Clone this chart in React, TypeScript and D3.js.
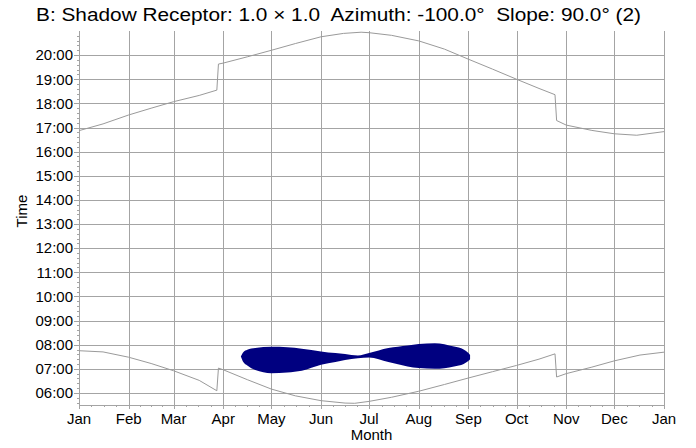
import React, { useEffect, useRef } from 'react';
import * as d3 from 'd3';

// day of year (0 = Jan 1) and clock time in hours
const sunsetDays = [0, 15, 31, 45, 59, 75, 86, 87, 90, 105, 120, 135, 151, 165, 176, 181, 195, 212, 228, 243, 258, 273, 287, 297, 298, 304, 320, 334, 348, 365];
const sunsetHours = [16.87, 17.15, 17.52, 17.8, 18.07, 18.33, 18.55, 19.63, 19.67, 19.93, 20.2, 20.48, 20.76, 20.9, 20.95, 20.93, 20.82, 20.59, 20.25, 19.83, 19.42, 19.0, 18.62, 18.36, 17.29, 17.1, 16.88, 16.74, 16.68, 16.83];

const sunriseDays = [0, 15, 31, 45, 59, 75, 86, 87, 90, 105, 120, 135, 151, 166, 172, 181, 195, 212, 228, 243, 258, 273, 287, 297, 298, 304, 320, 334, 350, 365];
const sunriseHours = [7.75, 7.7, 7.48, 7.22, 6.92, 6.52, 6.09, 7.03, 6.96, 6.55, 6.16, 5.88, 5.68, 5.58, 5.57, 5.65, 5.82, 6.07, 6.35, 6.62, 6.88, 7.14, 7.4, 7.62, 6.66, 6.8, 7.07, 7.33, 7.57, 7.69];

// shadow period per day: start (lower edge) and end (upper edge)
const shadowDays = [101, 102.5, 105, 110, 120, 130, 139, 151, 160, 166, 174, 181, 193, 205, 212, 222, 234, 240, 243, 244];
const shadowStart = [7.51, 7.28, 7.14, 6.95, 6.82, 6.85, 6.92, 7.17, 7.28, 7.36, 7.44, 7.47, 7.28, 7.1, 7.03, 7.0, 7.1, 7.2, 7.33, 7.4];
const shadowEnd = [7.51, 7.69, 7.79, 7.86, 7.91, 7.89, 7.83, 7.72, 7.65, 7.61, 7.55, 7.65, 7.86, 7.97, 8.03, 8.06, 7.92, 7.8, 7.65, 7.57];

const monthStarts = [0, 31, 59, 90, 120, 151, 181, 212, 243, 273, 304, 334, 365];
const monthLabels = ['Jan', 'Feb', 'Mar', 'Apr', 'May', 'Jun', 'Jul', 'Aug', 'Sep', 'Oct', 'Nov', 'Dec', 'Jan'];
const hourTicks = [6, 7, 8, 9, 10, 11, 12, 13, 14, 15, 16, 17, 18, 19, 20];

const title = 'B: Shadow Receptor: 1.0 \u00d7 1.0  Azimuth: -100.0\u00b0  Slope: 90.0\u00b0 (2)';

const App = () => {
  const chartRef = useRef<HTMLDivElement>(null);

  useEffect(() => {
    document.body.style.margin = '0';
    const width = 696;
    const height = 448;
    const margin = { top: 31, right: 32, bottom: 43, left: 79 };
    const font = '"Liberation Sans", Arial, sans-serif';
    const gridColor = '#a4a4a4';

    d3.select(chartRef.current).select('svg').remove();

    const svg = d3
      .select(chartRef.current)
      .append('svg')
      .attr('width', width)
      .attr('height', height)
      .style('display', 'block')
      .style('font-family', font);

    svg.append('rect').attr('width', width).attr('height', height).attr('fill', '#fff');

    const x = d3.scaleLinear().domain([0, 365]).range([margin.left, width - margin.right]);
    const y = d3.scaleLinear().domain([5.5, 21]).range([height - margin.bottom, margin.top]);

    // title (the original font runs wider than Arial)
    svg
      .append('text')
      .attr('x', 36)
      .attr('y', 20.5)
      .attr('font-size', '17.5px')
      .attr('fill', '#000')
      .attr('textLength', 605)
      .attr('lengthAdjust', 'spacingAndGlyphs')
      .style('white-space', 'pre')
      .text(title);

    // grid
    const grid = svg.append('g').attr('stroke', gridColor).attr('stroke-width', 1);
    hourTicks.forEach((h) => {
      const yy = Math.round(y(h)) + 0.5;
      grid.append('line').attr('x1', x(0) - 5).attr('x2', x(365)).attr('y1', yy).attr('y2', yy);
    });
    monthStarts.forEach((d) => {
      const xx = Math.round(x(d)) + 0.5;
      grid.append('line').attr('x1', xx).attr('x2', xx).attr('y1', y(21)).attr('y2', y(5.5) + 4);
    });

    // minor ticks
    const minor = svg.append('g').attr('stroke', gridColor).attr('stroke-width', 1);
    d3.range(5.6, 21, 0.2).forEach((h) => {
      if (Math.abs(h - Math.round(h)) < 0.01) return;
      const yy = Math.round(y(h)) + 0.5;
      minor.append('line').attr('x1', x(0) - 2).attr('x2', x(0)).attr('y1', yy).attr('y2', yy);
    });
    monthStarts.slice(0, -1).forEach((d, i) => {
      const next = monthStarts[i + 1];
      [0.25, 0.5, 0.75].forEach((f) => {
        const xx = Math.round(x(d + (next - d) * f)) + 0.5;
        minor.append('line').attr('x1', xx).attr('x2', xx).attr('y1', y(5.5)).attr('y2', y(5.5) + 2);
      });
    });

    // axis lines
    const axisY = Math.round(y(5.5)) + 0.5;
    const axisX = Math.round(x(0)) + 0.5;
    svg.append('line').attr('x1', axisX).attr('x2', x(365)).attr('y1', axisY).attr('y2', axisY).attr('stroke', gridColor);
    svg.append('line').attr('x1', axisX).attr('x2', axisX).attr('y1', y(21)).attr('y2', axisY).attr('stroke', gridColor);

    // tick labels
    svg
      .append('g')
      .selectAll('text')
      .data(hourTicks)
      .join('text')
      .attr('x', x(0) - 6)
      .attr('y', (d) => y(d))
      .attr('dy', '0.35em')
      .attr('text-anchor', 'end')
      .attr('font-size', '15px')
      .text((d) => `${String(d).padStart(2, '0')}:00`);

    svg
      .append('g')
      .selectAll('text')
      .data(monthStarts)
      .join('text')
      .attr('x', (d) => x(d))
      .attr('y', 424)
      .attr('text-anchor', 'middle')
      .attr('font-size', '15px')
      .text((d, i) => monthLabels[i]);

    // axis titles
    svg
      .append('text')
      .attr('x', (x(0) + x(365)) / 2)
      .attr('y', 440)
      .attr('text-anchor', 'middle')
      .attr('font-size', '15px')
      .text('Month');

    svg
      .append('text')
      .attr('transform', `translate(27, 211) rotate(-90)`)
      .attr('text-anchor', 'middle')
      .attr('font-size', '15px')
      .text('Time');

    // sunrise / sunset lines
    const line = d3
      .line<[number, number]>()
      .x((d) => x(d[0]))
      .y((d) => y(d[1]));

    const sunset = sunsetDays.map((d, i) => [d, sunsetHours[i]] as [number, number]);
    const sunrise = sunriseDays.map((d, i) => [d, sunriseHours[i]] as [number, number]);

    [sunset, sunrise].forEach((pts) => {
      svg
        .append('path')
        .datum(pts)
        .attr('d', line)
        .attr('fill', 'none')
        .attr('stroke', '#9a9a9a')
        .attr('stroke-width', 1);
    });

    // shadow area
    const area = d3
      .area<number>()
      .x((d) => x(d))
      .y0((d, i) => y(shadowStart[i]))
      .y1((d, i) => y(shadowEnd[i]))
      .curve(d3.curveMonotoneX);

    svg
      .append('path')
      .datum(shadowDays)
      .attr('d', area)
      .attr('fill', '#000080');
  }, []);

  return <div ref={chartRef}></div>;
};

export default App;
